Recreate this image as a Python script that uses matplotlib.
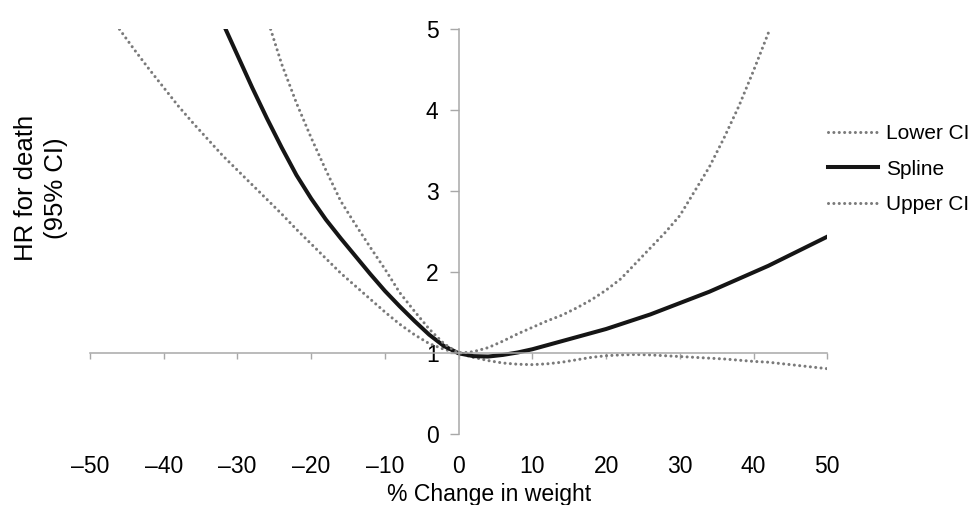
import numpy as np
import matplotlib
matplotlib.use('Agg')
import matplotlib.pyplot as plt

plt.rcParams['font.family'] = ['Liberation Sans', 'DejaVu Sans']

# values (x = % change in weight, y = HR)
lower_x = [-46, -44, -42, -40, -38, -36, -34, -32, -30, -28, -26, -24, -22, -20, -18, -16, -14, -12, -10, -8, -6, -4, -2, 0,
           2, 4, 6, 8, 10, 12, 14, 16, 18, 20, 22, 24, 26, 28, 30, 32, 34, 36, 38, 40, 42, 44, 46, 48, 50]
lower_y = [5.0, 4.75, 4.51, 4.28, 4.05, 3.84, 3.64, 3.44, 3.26, 3.08, 2.90, 2.72, 2.53, 2.35, 2.17, 1.99, 1.83, 1.67, 1.51, 1.36, 1.23, 1.12, 1.05, 1.0,
           0.95, 0.91, 0.88, 0.865, 0.86, 0.87, 0.89, 0.92, 0.95, 0.97, 0.98, 0.985, 0.98, 0.97, 0.96, 0.95, 0.94, 0.93, 0.915, 0.90, 0.89, 0.87, 0.85, 0.83, 0.81]

spline_x = [-31.6, -30, -28, -26, -24, -22, -20, -18, -16, -14, -12, -10, -8, -6, -4, -2, 0,
            2, 4, 6, 8, 10, 12, 14, 16, 18, 20, 22, 24, 26, 28, 30, 32, 34, 36, 38, 40, 42, 44, 46, 48, 50]
spline_y = [5.0, 4.68, 4.28, 3.90, 3.54, 3.20, 2.91, 2.65, 2.42, 2.20, 1.98, 1.77, 1.58, 1.40, 1.23, 1.09, 1.0,
            0.965, 0.96, 0.98, 1.01, 1.05, 1.10, 1.15, 1.20, 1.25, 1.30, 1.36, 1.42, 1.48, 1.55, 1.62, 1.69, 1.76, 1.84, 1.92, 2.00, 2.08, 2.17, 2.26, 2.35, 2.44]

upper_x = [-25.5, -24, -22, -20, -18, -16, -14, -12, -10, -8, -6, -4, -2, 0,
           2, 4, 6, 8, 10, 12, 14, 16, 18, 20, 22, 24, 26, 28, 30, 32, 34, 36, 38, 40, 42.2]
upper_y = [5.0, 4.57, 4.09, 3.66, 3.26, 2.88, 2.59, 2.31, 2.04, 1.75, 1.52, 1.30, 1.12, 1.0,
           1.02, 1.07, 1.15, 1.24, 1.32, 1.40, 1.47, 1.56, 1.66, 1.78, 1.92, 2.11, 2.30, 2.49, 2.70, 3.0, 3.30, 3.66, 4.05, 4.49, 5.0]

xticks = [-50, -40, -30, -20, -10, 0, 10, 20, 30, 40, 50]
xtick_labels = ['\u201350', '\u201340', '\u201330', '\u201320', '\u201310', '0', '10', '20', '30', '40', '50']
yticks = [0, 1, 2, 3, 4, 5]

fs_tick = 16.5
fig = plt.figure(figsize=(9.73, 5.05), dpi=100)
ax = fig.add_axes([90/973, 1-434.3/505, 737.3/973, 405/505])

dot = (0, (0.01, 1.75))
grey = '#7a7a7a'
ax.plot(lower_x, lower_y, color=grey, lw=2.2, linestyle=dot, dash_capstyle='round', label='Lower CI')
ax.plot(spline_x, spline_y, color='#151515', lw=2.9, label='Spline')
ax.plot(upper_x, upper_y, color=grey, lw=2.2, linestyle=dot, dash_capstyle='round', label='Upper CI')

ax.set_xlim(-50, 50)
ax.set_ylim(0, 5)

spine_col = '#a8a8a8'
ax.spines['left'].set_position(('data', 0))
ax.spines['bottom'].set_position(('data', 1))
ax.spines['top'].set_visible(False)
ax.spines['right'].set_visible(False)
for s in ['left', 'bottom']:
    ax.spines[s].set_color(spine_col)
    ax.spines[s].set_linewidth(1.1)

ax.set_xticks(xticks)
ax.set_xticklabels(xtick_labels)
ax.set_yticks(yticks)
ax.tick_params(axis='x', direction='out', length=4.5, width=1.0, color=spine_col, pad=68.5, labelsize=fs_tick)
ax.tick_params(axis='y', direction='out', length=6.5, width=1.0, color=spine_col, pad=8, labelsize=fs_tick)

ax.set_xlabel('% Change in weight', fontsize=16.6)
ax.xaxis.set_label_coords((489 - 90) / 737.3, (434.3 - 483) / 405)
fig.text(41/973, 1-188/505, 'HR for death\n(95% CI)', rotation=90, ha='center', va='center',
         fontsize=18.5, multialignment='center', linespacing=1.3)

ax.legend(loc='upper left', bbox_to_anchor=(828/973, 1-124/505), bbox_transform=fig.transFigure,
          frameon=False, fontsize=15, handlelength=2.4, handletextpad=0.38, labelspacing=0.8,
          borderpad=0, borderaxespad=0)

fig.savefig('out.png', dpi=100)
